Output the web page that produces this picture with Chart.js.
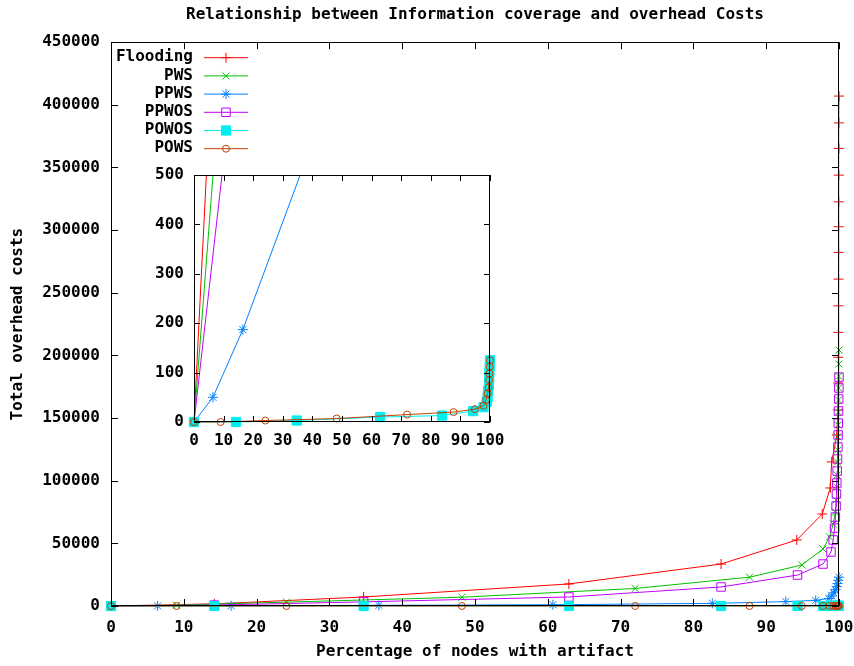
<!DOCTYPE html>
<html>
<head>
<meta charset="utf-8">
<script src="https://cdn.jsdelivr.net/npm/chart.js@4.4.1/dist/chart.umd.min.js"></script>
<style>
  body { margin: 0; background: #fff; }
  #wrap { position: relative; width: 854px; height: 666px; }
  #main { position: absolute; left: 0; top: 0; }
  #inset { position: absolute; left: 130px; top: 160px; }
</style>
</head>
<body>
<div id="wrap">
  <canvas id="main" width="854" height="666"></canvas>
  <canvas id="inset" width="390" height="300"></canvas>
</div>
<script>
// percentage of nodes with artifact (x) and total overhead costs (y)
var floodX = [0, 14.2, 34.7, 62.9, 83.8, 94.2, 97.7, 98.8, 99.0, 99.7, 99.85, 99.88, 99.9, 99.92, 99.93, 99.94, 99.95, 99.96, 99.97, 99.98, 99.99, 99.995, 100];
var floodY = [0, 1700, 7200, 17600, 33500, 52700, 73400, 94200, 115000, 136500, 156400, 178000, 198500, 218400, 239600, 260900, 282200, 302700, 322600, 343900, 365200, 385600, 407000];

var pwsX = [0, 9.0, 24.1, 48.2, 72.0, 87.7, 94.9, 97.8, 98.7, 99.2, 99.5, 99.6, 99.7, 99.75, 99.8, 99.83, 99.86, 99.88, 99.9, 99.92, 99.94, 99.96, 99.98, 100];
var pwsY = [0, 700, 3100, 7000, 14000, 23000, 32700, 45500, 55100, 65400, 75000, 84600, 95000, 104500, 114900, 124500, 134900, 144400, 154800, 164400, 174000, 183500, 193100, 204300];

var ppwsX = [0, 6.4, 16.5, 36.8, 60.7, 82.6, 92.7, 96.8, 98.6, 99.0, 99.3, 99.5, 99.7, 99.8, 99.9, 100];
var ppwsY = [0, 50, 187, 515, 1000, 2100, 3500, 4500, 6000, 8000, 10500, 13000, 15500, 18000, 20500, 23000];

var ppwosX = [0, 14.2, 34.7, 62.9, 83.8, 94.3, 97.8, 98.9, 99.2, 99.4, 99.5, 99.6, 99.65, 99.7, 99.75, 99.8, 99.85, 99.88, 99.9, 99.93, 99.96, 99.98, 100];
var ppwosY = [0, 750, 3300, 7200, 15200, 24700, 33500, 43100, 52700, 62200, 71000, 79800, 89400, 98200, 107700, 117300, 126900, 136500, 146000, 155600, 165200, 174000, 182700];

var powosX = [0, 14.2, 34.7, 62.9, 83.8, 94.3, 97.8, 98.9, 99.2, 99.4, 99.6, 99.7, 99.8, 99.9, 100];
var powosY = [0, 0, 3, 10, 13, 22, 30, 40, 50, 62, 75, 88, 100, 112, 125];

var powsX = [0, 9.0, 24.1, 48.2, 72.0, 87.7, 94.9, 97.8, 98.7, 99.2, 99.5, 99.7, 99.8, 99.9, 100];
var powsY = [0, 0, 3, 7, 15, 20, 26, 33, 45, 58, 70, 85, 98, 112, 125];

var FONT = '"DejaVu Sans Mono", monospace';

function pts(xs, ys) {
    return xs.map(function (x, i) { return { x: x, y: ys[i] }; });
}

// gnuplot-ish series styles
var seriesDefs = [
    { label: 'Flooding', xs: floodX, ys: floodY, color: '#ff0000', style: 'cross', r: 5, fill: '#ff0000' },
    { label: 'PWS', xs: pwsX, ys: pwsY, color: '#00c000', style: 'crossRot', r: 5, fill: '#00c000' },
    { label: 'PPWS', xs: ppwsX, ys: ppwsY, color: '#0080ff', style: 'star', r: 5, fill: '#0080ff' },
    { label: 'PPWOS', xs: ppwosX, ys: ppwosY, color: '#c000ff', style: 'rect', r: 6, fill: 'rgba(0,0,0,0)' },
    { label: 'POWOS', xs: powosX, ys: powosY, color: '#00eeee', style: 'rect', r: 6.5, fill: '#00eeee' },
    { label: 'POWS', xs: powsX, ys: powsY, color: '#c04000', style: 'circle', r: 3.5, fill: 'rgba(0,0,0,0)' }
];

function makeDatasets(clip) {
    return seriesDefs.map(function (s, i) {
        return {
            label: s.label,
            data: pts(s.xs, s.ys),
            showLine: true,
            borderColor: s.color,
            backgroundColor: s.fill,
            borderWidth: 1,
            pointStyle: s.style,
            pointRadius: s.r,
            pointHoverRadius: s.r,
            pointBorderColor: s.color,
            pointBackgroundColor: s.fill,
            pointBorderWidth: 1,
            order: seriesDefs.length - i,
            clip: clip
        };
    });
}

// drop the label overhang padding so the plot box sits where we put it
function noPad(s) {
    s.paddingLeft = 0; s.paddingRight = 0; s.paddingTop = 0; s.paddingBottom = 0;
}

// border box with inward ticks on all four sides
var framePlugin = {
    id: 'frame',
    afterDatasetsDraw: function (chart, args, opts) {
        var ctx = chart.ctx, a = chart.chartArea;
        var xs = chart.scales.x, ys = chart.scales.y;
        var len = opts.len || 6;
        ctx.save();
        ctx.strokeStyle = '#000';
        ctx.lineWidth = 1;
        ctx.strokeRect(Math.round(a.left) + 0.5, Math.round(a.top) + 0.5,
            Math.round(a.right - a.left) - 1, Math.round(a.bottom - a.top) - 1);
        ctx.beginPath();
        xs.ticks.forEach(function (t) {
            var px = Math.round(xs.getPixelForValue(t.value)) + 0.5;
            ctx.moveTo(px, a.bottom); ctx.lineTo(px, a.bottom - len);
            ctx.moveTo(px, a.top); ctx.lineTo(px, a.top + len);
        });
        ys.ticks.forEach(function (t) {
            var py = Math.round(ys.getPixelForValue(t.value)) + 0.5;
            ctx.moveTo(a.left, py); ctx.lineTo(a.left + len, py);
            ctx.moveTo(a.right, py); ctx.lineTo(a.right - len, py);
        });
        ctx.stroke();
        ctx.restore();
    }
};

// key in the upper left corner, labels right aligned before the line sample
var keyPlugin = {
    id: 'key',
    afterDatasetsDraw: function (chart) {
        var ctx = chart.ctx, a = chart.chartArea;
        ctx.save();
        ctx.font = 'bold 16px ' + FONT;
        ctx.textAlign = 'right';
        ctx.textBaseline = 'middle';
        chart.data.datasets.forEach(function (ds, i) {
            var y = a.top + 15 + i * 18.2;
            ctx.fillStyle = '#000';
            ctx.fillText(ds.label, a.left + 82, y);
            ctx.strokeStyle = ds.borderColor;
            ctx.lineWidth = 1;
            ctx.beginPath();
            ctx.moveTo(a.left + 93, y + 0.5);
            ctx.lineTo(a.left + 137, y + 0.5);
            ctx.stroke();
            ctx.fillStyle = ds.pointBackgroundColor;
            Chart.helpers.drawPoint(ctx, {
                pointStyle: ds.pointStyle, radius: ds.pointRadius, rotation: 0, borderWidth: 1
            }, a.left + 115, y + 0.5);
        });
        ctx.restore();
    }
};

Chart.defaults.font.family = FONT;
Chart.defaults.font.weight = 'bold';
Chart.defaults.font.size = 16;
Chart.defaults.color = '#000';

new Chart(document.getElementById('main'), {
    type: 'scatter',
    data: { datasets: makeDatasets(false) },
    options: {
        responsive: false,
        animation: false,
        events: [],
        layout: { padding: { left: 0, right: 15, top: 0, bottom: 0 } },
        plugins: {
            legend: { display: false },
            tooltip: { enabled: false },
            title: {
                display: true,
                text: 'Relationship between Information coverage and overhead Costs',
                fullSize: false,
                font: { size: 16, weight: 'bold' },
                padding: { top: 5, bottom: 18 }
            },
            frame: { len: 7 }
        },
        scales: {
            x: {
                type: 'linear', min: 0, max: 100,
                grid: { display: false, drawTicks: false },
                border: { display: false },
                ticks: { stepSize: 10, padding: 12, maxRotation: 0 },
                title: { display: true, text: 'Percentage of nodes with artifact', padding: { top: 0, bottom: 5 } },
                afterFit: function (s) { s.height = 60; noPad(s); }
            },
            y: {
                type: 'linear', min: 0, max: 450000,
                grid: { display: false, drawTicks: false },
                border: { display: false },
                ticks: { stepSize: 50000, padding: 11, callback: function (v) { return String(v); } },
                title: { display: true, text: 'Total overhead costs', padding: { top: 8, bottom: 0 } },
                afterFit: function (s) { s.width = 111; noPad(s); }
            }
        }
    },
    plugins: [framePlugin, keyPlugin]
});

// zoomed inset of the low cost region
new Chart(document.getElementById('inset'), {
    type: 'scatter',
    data: { datasets: makeDatasets({ left: 8, right: 8, top: 0, bottom: 8 }) },
    options: {
        responsive: false,
        animation: false,
        events: [],
        layout: { padding: { left: 0, right: 30, top: 15, bottom: 0 } },
        plugins: {
            legend: { display: false },
            tooltip: { enabled: false },
            frame: { len: 6 }
        },
        scales: {
            x: {
                type: 'linear', min: 0, max: 100,
                grid: { display: false, drawTicks: false },
                border: { display: false },
                ticks: { stepSize: 10, padding: 9, maxRotation: 0, autoSkip: false },
                afterFit: function (s) { s.height = 38; noPad(s); }
            },
            y: {
                type: 'linear', min: 0, max: 500,
                grid: { display: false, drawTicks: false },
                border: { display: false },
                ticks: { stepSize: 100, padding: 10 },
                afterFit: function (s) { s.width = 64; noPad(s); }
            }
        }
    },
    plugins: [framePlugin]
});
</script>
</body>
</html>
